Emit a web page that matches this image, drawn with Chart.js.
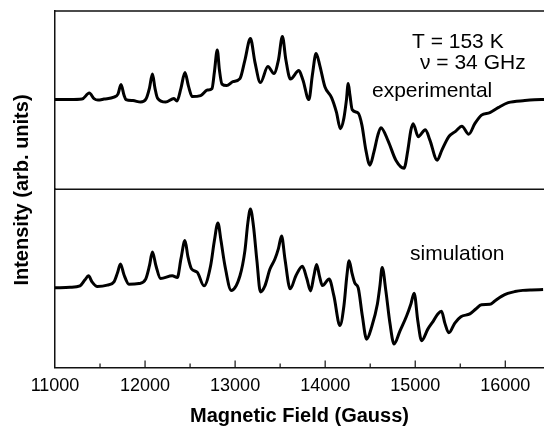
<!DOCTYPE html>
<html lang="en">
<head>
    <meta charset="UTF-8">
    <title>EPR spectrum</title>
    <script src="https://cdn.jsdelivr.net/npm/chart.js@4.4.1/dist/chart.umd.min.js"></script>
    <style>
        body { margin: 0; background: #fff; }
        #wrap { position: relative; width: 544px; height: 426px; }
    </style>
</head>
<body>
<div id="wrap"><canvas id="grafico" width="544" height="426"></canvas></div>
<script>
    // Magnetic field (Gauss) and intensity (arb. units)
    const campoExp = [11000, 11167, 11300, 11381, 11433, 11477, 11544, 11655, 11699, 11733, 11766, 11788, 11866, 11951,
        12010, 12049, 12082, 12110, 12138, 12229, 12321, 12354, 12399, 12443, 12482, 12524, 12617, 12691, 12743,
        12770, 12802, 12826, 12854, 12906, 12976, 13054, 13109, 13170, 13220, 13281, 13364, 13431, 13481, 13525,
        13564, 13614, 13708, 13753, 13819, 13858, 13899, 13942, 13997, 14071, 14125, 14169, 14208, 14236, 14256,
        14275, 14300, 14367, 14408, 14452, 14497, 14541, 14585, 14619, 14700, 14785, 14876, 14918, 14952, 14977,
        15033, 15113, 15163, 15244, 15296, 15373, 15451, 15518, 15595, 15662, 15736, 15829, 15921, 16032, 16217,
        16402, 16430];
    const intensidadeExp = [0, 0, 0.5, 6.5, 1, -0.5, 0.5, 2.5, 5.5, 15, 4.5, 0, -1, -2.5,
        0.5, 11.5, 25.5, 11.5, 1.5, -2.5, 1, -1.5, 11.5, 27, 13.5, 3, 4, 9.5, 11,
        27.5, 49.5, 29.5, 15.5, 14, 18, 21, 39.5, 61, 37.5, 17, 33, 26, 39.5, 63,
        39.5, 20.5, 29, 19.5, 0, 24.5, 46, 33.5, 12.8, 2, -12.5, -29, -18.5, -0.5, 16,
        4.5, -10, -13.5, -25.5, -50.5, -65.5, -52.5, -35.5, -28, -41.5, -60.5, -68.5, -50.5, -30.5, -24,
        -37, -30, -40.5, -60.5, -50.5, -37, -31.5, -26.5, -34.5, -24, -15.5, -13, -8, -3, -1,
        0, 0];

    const campoSim = [11000, 11167, 11278, 11333, 11372, 11411, 11470, 11581, 11655, 11694, 11727, 11766, 11821, 11932,
        12007, 12049, 12082, 12121, 12173, 12302, 12358, 12399, 12443, 12476, 12515, 12580, 12654, 12728, 12770,
        12809, 12843, 12887, 12957, 13054, 13109, 13142, 13170, 13203, 13242, 13281, 13331, 13387, 13442, 13481,
        13516, 13553, 13612, 13675, 13747, 13797, 13838, 13875, 13905, 13936, 13969, 14044, 14097, 14164, 14208,
        14241, 14266, 14297, 14330, 14367, 14413, 14460, 14519, 14580, 14608, 14633, 14674, 14719, 14765, 14830,
        14904, 14952, 14988, 15029, 15071, 15140, 15201, 15251, 15292, 15329, 15373, 15440, 15507, 15607, 15673,
        15736, 15829, 15884, 15958, 16028, 16106, 16195, 16291, 16420];
    const intensidadeSim = [0, 0.5, 2, 8, 12, 6, 1.3, 2.7, 6, 15, 23.7, 13, 3.7, 4.3,
        8.7, 22, 35.5, 22, 9.3, 12, 10.3, 29, 47, 31, 19, 15.5, 2, 22, 47,
        64.5, 47, 22, -2.5, 12, 37, 65, 78.3, 62, 27, -4, 2, 18.7, 28.7, 39,
        51.5, 29, -1, 12, 21.5, 9, -3, 12, 23.3, 12, 2.3, 8.7, -8, -37.5, -18,
        12, 27, 15, 4.7, 0, -28, -51, -38, -16, 2, 20.3, -3, -35, -55.8, -43,
        -28, -16, -5.3, -33, -52.5, -41, -33, -26, -23.3, -35, -44.7, -35, -28.7, -25.8, -21,
        -16.7, -16.3, -13, -8.5, -5.5, -3.7, -2.5, -2, -1.7];

    const ticksCampo = [11000, 12000, 13000, 14000, 15000, 16000];

    const fonte = '"Liberation Sans", Arial, sans-serif';

    function pontos(xs, ys) {
        return xs.map((x, i) => ({ x: x, y: ys[i] }));
    }

    // moldura, ticks internos e textos
    const molduraPlugin = {
        id: 'moldura',
        afterDraw(chart) {
            const ctx = chart.ctx;
            const area = chart.chartArea;
            const x = chart.scales.x;
            const yTop = chart.scales.yExp;
            ctx.save();
            ctx.strokeStyle = '#111';
            ctx.lineWidth = 1.5;
            ctx.beginPath();
            ctx.moveTo(area.left, area.top);
            ctx.lineTo(area.right, area.top);
            ctx.moveTo(area.left, yTop.bottom);
            ctx.lineTo(area.right, yTop.bottom);
            ctx.stroke();

            ctx.lineWidth = 1.2;
            ctx.beginPath();
            for (let v = 11500; v <= x.max; v += 500) {
                const px = x.getPixelForValue(v);
                const len = v % 1000 === 0 ? 7 : 4;
                ctx.moveTo(px, area.bottom);
                ctx.lineTo(px, area.bottom - len);
            }
            ctx.stroke();

            ctx.fillStyle = '#000';
            ctx.font = '21px ' + fonte;
            ctx.textBaseline = 'alphabetic';
            ctx.textAlign = 'left';
            ctx.fillText('T = 153 K', 412, 48);
            ctx.fillText('\u03bd = 34 GHz', 420, 69);
            ctx.fillText('experimental', 372, 97);
            ctx.fillText('simulation', 410, 260);

            ctx.font = 'bold 20px ' + fonte;
            ctx.translate(22, 190);
            ctx.rotate(-Math.PI / 2);
            ctx.textAlign = 'center';
            ctx.textBaseline = 'middle';
            ctx.fillText('Intensity (arb. units)', 0, 0);
            ctx.restore();
        }
    };

    const config = {
        type: 'line',
        data: {
            datasets: [{
                label: 'experimental',
                data: pontos(campoExp, intensidadeExp),
                yAxisID: 'yExp',
                borderColor: '#000',
                borderWidth: 3,
                pointRadius: 0,
                cubicInterpolationMode: 'monotone',
                fill: false
            }, {
                label: 'simulation',
                data: pontos(campoSim, intensidadeSim),
                yAxisID: 'ySim',
                borderColor: '#000',
                borderWidth: 3,
                pointRadius: 0,
                cubicInterpolationMode: 'monotone',
                fill: false
            }]
        },
        options: {
            responsive: false,
            animation: false,
            devicePixelRatio: 1,
            layout: { padding: { top: 11, left: 55, right: 0, bottom: 0 } },
            plugins: {
                legend: { display: false },
                tooltip: { enabled: false }
            },
            scales: {
                x: {
                    type: 'linear',
                    min: 11000,
                    max: 16430,
                    grid: { display: false, drawTicks: false },
                    border: { display: true, color: '#111', width: 1.5 },
                    afterBuildTicks: (scale) => {
                        scale.ticks = ticksCampo.map(v => ({ value: v }));
                    },
                    ticks: {
                        padding: 8,
                        autoSkip: false,
                        maxRotation: 0,
                        color: '#000',
                        font: { family: fonte, size: 18 },
                        callback: (v) => String(v)
                    },
                    title: {
                        display: true,
                        text: 'Magnetic Field (Gauss)',
                        color: '#000',
                        font: { family: fonte, size: 20, weight: 'bold', lineHeight: 1 },
                        padding: { top: 1, bottom: 0 }
                    }
                },
                // the first scale of the stack is placed at the bottom
                ySim: {
                    type: 'linear',
                    position: 'left',
                    stack: 'paineis',
                    stackWeight: 1,
                    min: -79,
                    max: 98,
                    grid: { display: false, drawTicks: false },
                    border: { display: true, color: '#111', width: 1.5 },
                    ticks: { display: false }
                },
                yExp: {
                    type: 'linear',
                    position: 'left',
                    stack: 'paineis',
                    stackWeight: 1,
                    min: -89.5,
                    max: 88.5,
                    grid: { display: false, drawTicks: false },
                    border: { display: true, color: '#111', width: 1.5 },
                    ticks: { display: false }
                }
            }
        },
        plugins: [molduraPlugin]
    };

    new Chart(document.getElementById('grafico').getContext('2d'), config);
</script>
</body>
</html>
